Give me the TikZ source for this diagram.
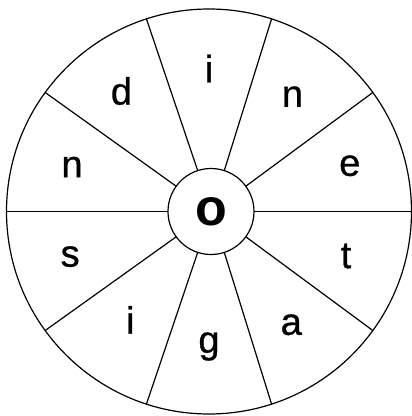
\documentclass[tikz,border=0pt]{standalone}
\usepackage{fontspec}
\setmainfont{Liberation Sans}
\newfontfamily\letterfont[FakeBold=0.8]{Liberation Sans}
\usepackage{tikz}
\tikzset{
  rimcirc/.style={
    draw=black, circle, line width=1.2pt, outer sep=0pt, inner sep=0pt,
    minimum size=405pt
  },
  hubcirc/.style={
    draw=black, circle, line width=1.2pt, outer sep=0pt, inner sep=0pt,
    minimum size=86pt, font=\fontsize{52}{54}\selectfont\bfseries
  },
  spoke/.style={draw=black, line width=1.2pt},
  letter/.style={inner sep=0pt, font=\letterfont\fontsize{38}{40}\selectfont}
}
\begin{document}
\begin{tikzpicture}[x=1pt, y=1pt]
  \useasboundingbox (-209,-204.5) rectangle (203,211.5);
  \node[rimcirc] (rim) at (0,0) {};
  \node[hubcirc] (hub) at (2,0) {o};
  % ten spokes, one every 36 degrees
  \foreach \ang in {0,36,...,324}
    \draw[spoke] (hub.\ang) -- (rim.\ang);
  \foreach \ang/\rad/\ch [count=\k] in
    {90/143/i,126/149/d,162/144/n,198/146/s,234/134/i,
     270/135/g,306/140/a,342/144/t,18/148/e,54/142/n}
    \node[letter] (l\k) at (\ang:\rad) {\ch};
\end{tikzpicture}
\end{document}
